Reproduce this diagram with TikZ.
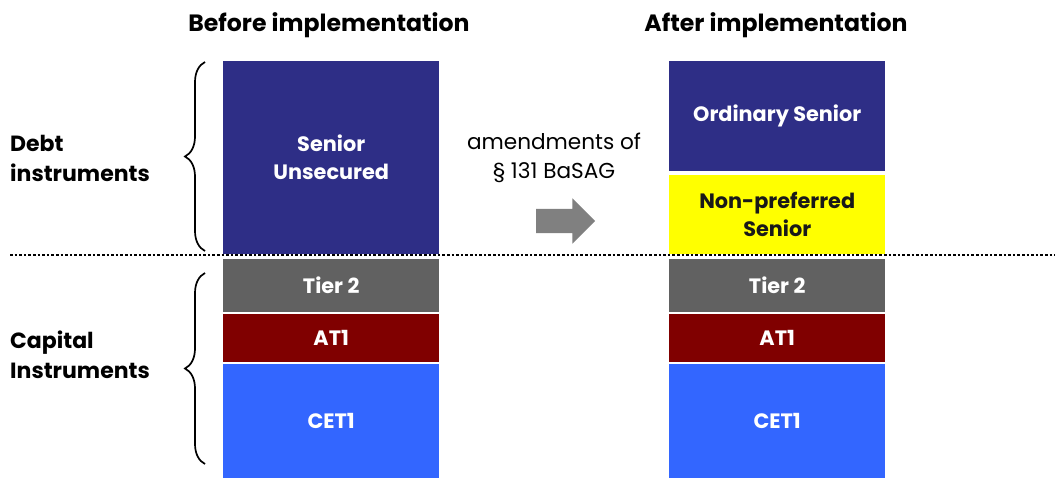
\documentclass[tikz,border=0pt]{standalone}
\usepackage{fontspec}
\setmainfont{Poppins}
\usepackage{tikz}
\usetikzlibrary{
    shapes, shapes.arrows,
    arrows.meta, positioning, calc,
    decorations.pathreplacing
}
\definecolor{seniorBlue}{HTML}{2E2E86}
\definecolor{nonPrefYellow}{HTML}{FFFF00}
\definecolor{tierGray}{HTML}{616161}
\definecolor{atRed}{HTML}{800000}
\definecolor{cetBlue}{HTML}{3366FF}
\definecolor{arrowGray}{HTML}{808080}
\newcommand{\BoxFont}{\fontsize{20.8}{28}\selectfont\bfseries}
\newcommand{\HeadFont}{\fontsize{22}{30}\selectfont\bfseries}
\newcommand{\TitleFont}{\fontsize{23.6}{30}\selectfont\bfseries}
\newcommand{\DrawBraceLeft}[4]{
    \draw[decorate, decoration={brace, amplitude=20pt}, line width=1.7pt] (#1, #3) -- (#1, #2) node[midway] (#4) {};
}

\begin{document}
\begin{tikzpicture}[x=1pt, y=-1pt,
    layer/.style={anchor=north west, minimum width=216pt, inner sep=0pt, text=white, font=\BoxFont, align=center},
    heading/.style={font=\HeadFont, align=left, anchor=base west, inner sep=0pt}
]
        \useasboundingbox (0,0) rectangle (1055,478);

        % Column titles
        \node[font=\TitleFont, anchor=base] (titleBefore) at (329,32) {Before implementation};
        \node[font=\TitleFont, anchor=base] (titleAfter) at (776,32) {After implementation};

        % Debt part of both columns
        \node[layer, fill=seniorBlue, minimum height=193pt] (seniorL) at (223,61) {Senior\\Unsecured};
        \node[layer, fill=seniorBlue, minimum height=110pt] (ordinaryR) at (669,61) {Ordinary Senior};
        \node[layer, fill=nonPrefYellow, minimum height=79pt, text=black!90] (nonPrefR) at (669,175) {Non-preferred\\Senior};

        % Capital part, same in both columns
        \foreach \col/\x in {L/223, R/669} {
            \node[layer, fill=tierGray, minimum height=53pt] (tier\col) at (\x,259) {Tier 2};
            \node[layer, fill=atRed, minimum height=48pt] (atOne\col) at (\x,314) {AT1};
            \node[layer, fill=cetBlue, minimum height=114pt] (cet\col) at (\x,364) {CET1};
        }

        % Split between debt and capital
        \coordinate (splitStart) at (10,255);
        \coordinate (splitEnd) at (1055,255);
        \draw[line width=2.6pt, dash pattern=on 2.6pt off 2pt] (splitStart) -- (splitEnd);

        % Change of law
        \node[font=\fontsize{21.6}{29}\selectfont, align=center] (lawText) at (554,158) {amendments of\\\S{} 131 BaSAG};
        \node[single arrow, fill=arrowGray, inner xsep=0pt, inner ysep=12pt, minimum height=59pt,
              single arrow head extend=10.5pt, single arrow head indent=0pt] (shiftArrow) at (559.5,221) {};

        % Braces and their labels
        \DrawBraceLeft{205}{62}{251}{debtTip}
        \DrawBraceLeft{205}{273}{464}{capTip}
        \node[heading] (debtLabel) at (10,182) {Debt\\instruments};
        \node[heading] (capLabel) at (10,378) {Capital\\Instruments};

    \end{tikzpicture}
\end{document}
